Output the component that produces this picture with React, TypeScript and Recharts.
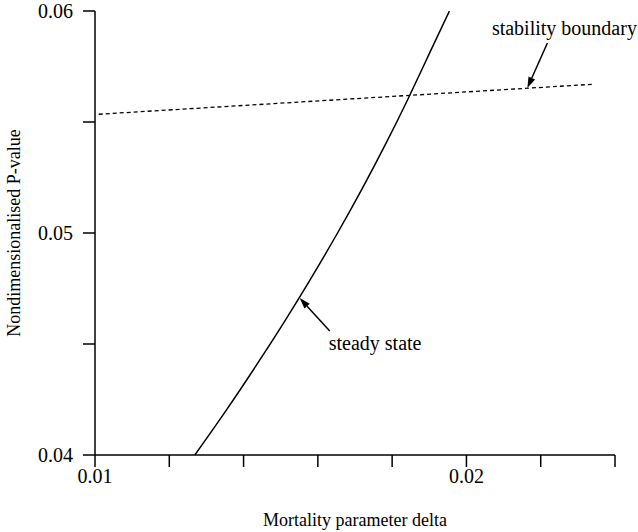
import React from 'react';
import { LineChart, Line, XAxis, YAxis, ReferenceLine } from 'recharts';

// Steady-state curve
const steadyDelta = [0.012688, 0.013527, 0.014328, 0.015097, 0.015831, 0.01653, 0.017194, 0.017823, 0.018417, 0.018978, 0.019543];
const steadyP = [0.04, 0.042, 0.044, 0.046, 0.048, 0.05, 0.052, 0.054, 0.056, 0.058, 0.06];

// Stability boundary (dashed)
const boundaryDelta = [0.0101, 0.0234];
const boundaryP = [0.05535, 0.0567];

// Axis ticks
const xTicks = [0.01, 0.012, 0.014, 0.016, 0.018, 0.02, 0.022, 0.024];
const yTicks = [0.04, 0.045, 0.05, 0.055, 0.06];

// Annotations (data coordinates)
const annotationText = ['steady state', 'stability boundary'];
const arrowTailDelta = [0.01632, 0.02218];
const arrowTailP = [0.04559, 0.05856];
const arrowTipDelta = [0.01551, 0.02164];
const arrowTipP = [0.04707, 0.05653];

const steadyData = steadyDelta.map((x, i) => ({ x, y: steadyP[i] }));
const boundaryData = boundaryDelta.map((x, i) => ({ x, y: boundaryP[i] }));

const FONT = "'Liberation Serif', 'DejaVu Serif', serif";
const fontStyle = { fontFamily: FONT };

const majorFmt = (v: number) =>
  Math.abs(v * 100 - Math.round(v * 100)) < 1e-7 ? v.toFixed(2) : '';

const makeArrow = (idx: number) => (p: any) => {
  const { x1, y1, x2, y2 } = p;
  const dx = x2 - x1;
  const dy = y2 - y1;
  const len = Math.sqrt(dx * dx + dy * dy) || 1;
  const ux = dx / len;
  const uy = dy / len;
  const hl = 11;
  const hw = 3.6;
  const bx = x2 - ux * hl;
  const by = y2 - uy * hl;
  const pts = `${x2},${y2} ${bx - uy * hw},${by + ux * hw} ${bx + uy * hw},${by - ux * hw}`;
  const label =
    idx === 0 ? (
      <text x={x1 - 1} y={y1 + 19} textAnchor="start" style={fontStyle} fontSize={20} fill="#000">
        {annotationText[idx]}
      </text>
    ) : (
      <text x={x1 + 17} y={y1 - 8} textAnchor="middle" style={fontStyle} fontSize={20} fill="#000">
        {annotationText[idx]}
      </text>
    );
  return (
    <g>
      <line x1={x1} y1={y1} x2={bx} y2={by} stroke="#000" strokeWidth={1.5} />
      <polygon points={pts} fill="#000" />
      {label}
    </g>
  );
};

export default function App() {
  return (
    <div style={{ position: 'absolute', left: 0, top: 0, background: '#fff', fontFamily: FONT }}>
      <LineChart
        width={638}
        height={532}
        margin={{ top: 11, right: 23, bottom: 37, left: 25 }}
        style={fontStyle}
      >
        <XAxis
          type="number"
          dataKey="x"
          domain={[0.01, 0.024]}
          ticks={xTicks}
          interval={0}
          tickFormatter={majorFmt}
          tickSize={12}
          tickMargin={2}
          height={40}
          allowDataOverflow
          axisLine={{ stroke: '#000', strokeWidth: 1.5 }}
          tickLine={{ stroke: '#000', strokeWidth: 1.5 }}
          tick={{ fill: '#000', fontSize: 20, style: fontStyle }}
          label={{
            content: (props: any) => {
              const vb = props.viewBox || {};
              return (
                <text
                  x={vb.x + vb.width / 2}
                  y={vb.y + 71}
                  textAnchor="middle"
                  style={fontStyle}
                  fontSize={18}
                  fill="#000"
                >
                  Mortality parameter delta
                </text>
              );
            },
          }}
        />
        <YAxis
          type="number"
          domain={[0.04, 0.06]}
          ticks={yTicks}
          interval={0}
          tickFormatter={majorFmt}
          tickSize={12}
          tickMargin={10}
          width={70}
          allowDataOverflow
          axisLine={{ stroke: '#000', strokeWidth: 1.5 }}
          tickLine={{ stroke: '#000', strokeWidth: 1.5 }}
          tick={{ fill: '#000', fontSize: 20, style: fontStyle }}
          label={{
            content: (props: any) => {
              const vb = props.viewBox || {};
              const cx = vb.x - 5;
              const cy = vb.y + vb.height / 2;
              return (
                <text
                  x={cx}
                  y={cy}
                  transform={`rotate(-90 ${cx} ${cy})`}
                  textAnchor="middle"
                  style={fontStyle}
                  fontSize={18}
                  fill="#000"
                >
                  Nondimensionalised P-value
                </text>
              );
            },
          }}
        />
        <Line
          data={boundaryData}
          dataKey="y"
          type="linear"
          stroke="#000"
          strokeWidth={1.3}
          strokeDasharray="4 3"
          dot={false}
          activeDot={false}
          isAnimationActive={false}
        />
        <Line
          data={steadyData}
          dataKey="y"
          type="natural"
          stroke="#000"
          strokeWidth={1.5}
          dot={false}
          activeDot={false}
          isAnimationActive={false}
        />
        {annotationText.map((t, i) => (
          <ReferenceLine
            key={t}
            segment={[
              { x: arrowTailDelta[i], y: arrowTailP[i] },
              { x: arrowTipDelta[i], y: arrowTipP[i] },
            ]}
            ifOverflow="visible"
            shape={makeArrow(i)}
          />
        ))}
      </LineChart>
    </div>
  );
}
